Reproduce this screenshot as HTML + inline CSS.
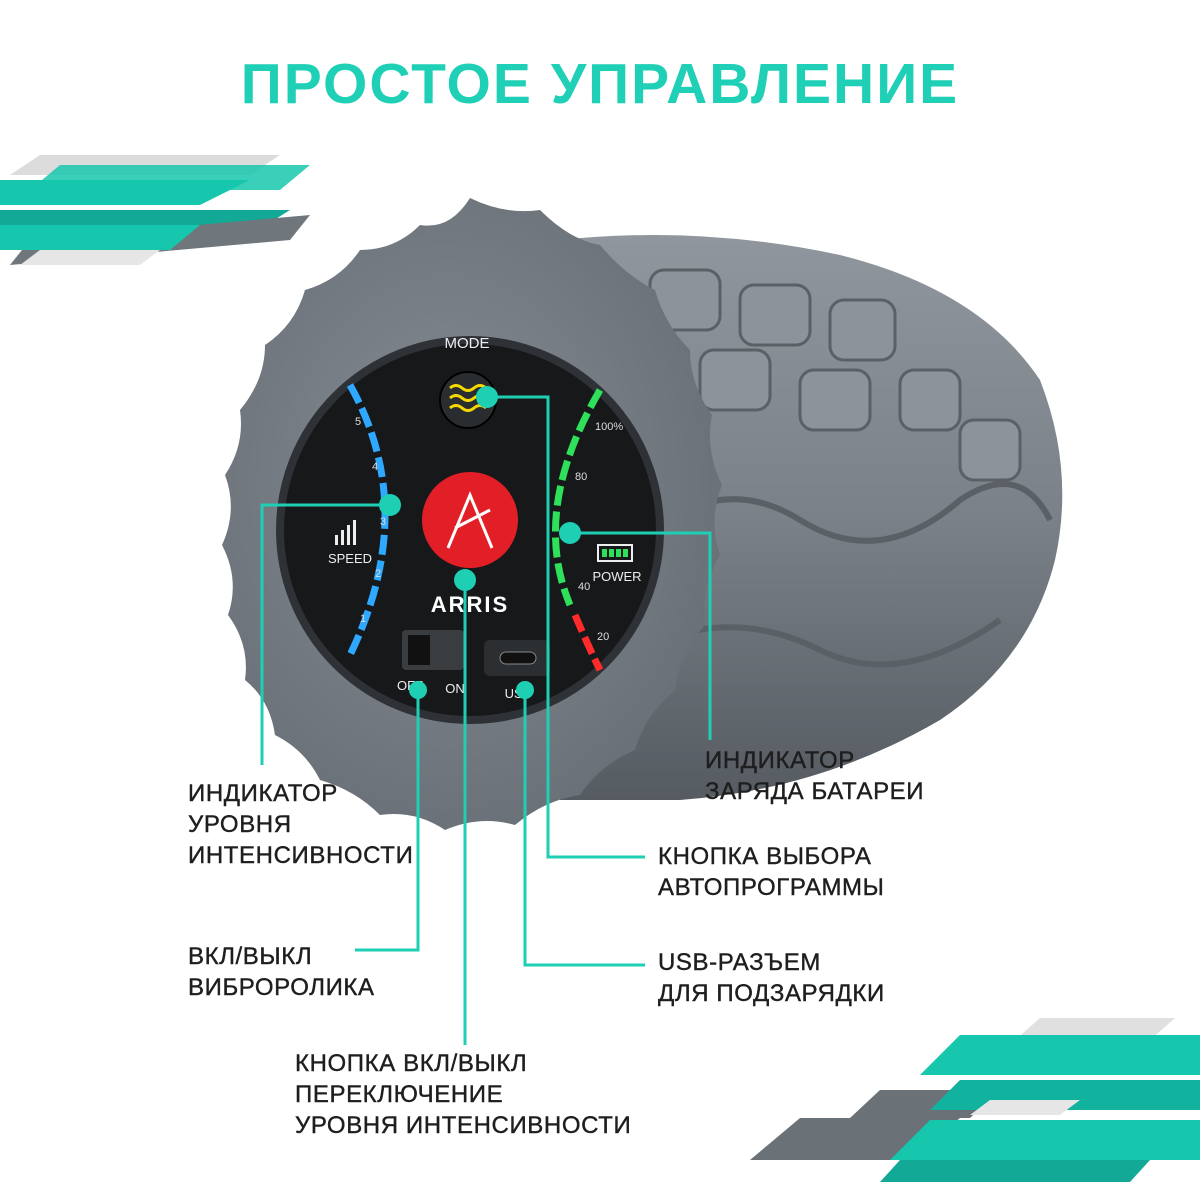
<!DOCTYPE html>
<html><head><meta charset="utf-8"><style>
html,body{margin:0;padding:0;background:#fff;width:1200px;height:1200px;overflow:hidden}
svg{display:block}
</style></head><body>
<svg width="1200" height="1200" viewBox="0 0 1200 1200" xmlns="http://www.w3.org/2000/svg" font-family="Liberation Sans, sans-serif">
<defs>
<radialGradient id="cap" cx="45%" cy="45%" r="60%"><stop offset="0" stop-color="#858b92"/><stop offset="1" stop-color="#686f76"/></radialGradient>
<linearGradient id="body" x1="0" y1="0" x2="0" y2="1"><stop offset="0" stop-color="#90969d"/><stop offset="0.5" stop-color="#7a8188"/><stop offset="1" stop-color="#555b61"/></linearGradient>
</defs>
<text x="600" y="103" text-anchor="middle" font-size="57" font-weight="bold" fill="#1fd0b7" letter-spacing="2">ПРОСТОЕ УПРАВЛЕНИЕ</text>

<g>
<polygon points="40,155 280,155 250,175 10,175" fill="#dcdcdc"/>
<polygon points="0,180 250,180 200,205 0,205" fill="#17c7ad"/>
<polygon points="60,165 310,165 280,190 30,190" fill="#17c7ad" opacity="0.85"/>
<polygon points="0,210 290,210 250,235 0,235" fill="#12a996"/>
<polygon points="30,240 310,215 290,240 10,265" fill="#6f767c"/>
<polygon points="0,225 200,225 170,250 0,250" fill="#17c7ad"/>
<polygon points="40,250 160,250 140,265 20,265" fill="#e6e6e6"/>
</g>
<g>
<polygon points="1040,1018 1175,1018 1150,1040 1015,1040" fill="#e0e0e0"/>
<polygon points="960,1035 1200,1035 1200,1075 920,1075" fill="#17c7ad"/>
<polygon points="880,1090 1000,1090 970,1118 850,1118" fill="#6a7177"/>
<polygon points="960,1080 1200,1080 1200,1110 930,1110" fill="#12b39e"/>
<polygon points="990,1100 1080,1100 1060,1115 970,1115" fill="#e6e6e6"/>
<polygon points="800,1118 960,1118 910,1160 750,1160" fill="#6a7177"/>
<polygon points="930,1120 1200,1120 1200,1160 890,1160" fill="#17c7ad"/>
<polygon points="900,1160 1150,1160 1130,1182 880,1182" fill="#12a996"/>
</g>

<path d="M560,240 Q700,225 840,255 Q980,290 1040,380 Q1075,470 1055,560 Q1030,660 940,720 Q820,790 680,800 L560,800 Z" fill="url(#body)"/>
<g fill="#8d939a" stroke="#5a6066" stroke-width="3">
<rect x="650" y="270" width="70" height="60" rx="14"/>
<rect x="740" y="285" width="70" height="60" rx="14"/>
<rect x="830" y="300" width="65" height="60" rx="14"/>
<rect x="700" y="350" width="70" height="60" rx="14"/>
<rect x="800" y="370" width="70" height="60" rx="14"/>
<rect x="900" y="370" width="60" height="60" rx="14"/>
<rect x="960" y="420" width="60" height="60" rx="14"/>
</g>
<path d="M640,540 Q720,470 800,520 Q880,570 960,500 Q1020,460 1050,520" stroke="#5a6066" stroke-width="6" fill="none"/>
<path d="M620,660 Q720,600 820,650 Q900,690 1000,620" stroke="#5a6066" stroke-width="6" fill="none"/>

<path fill="url(#cap)" d="
M470,198 Q505,215 540,210 Q570,240 600,245 Q625,275 655,290 Q665,325 690,350 Q690,385 712,415 Q705,450 722,485 Q708,520 720,555 Q700,590 705,625 Q680,655 675,690 Q645,715 635,750 Q600,765 580,795 Q545,800 515,825 Q480,815 445,830 Q415,810 380,815 Q355,790 320,780 Q305,750 275,735 Q270,700 245,680 Q250,645 228,615 Q240,580 222,545 Q238,510 225,475 Q245,445 240,410 Q265,380 265,345 Q295,325 305,290 Q340,280 360,250 Q395,250 420,225 Q450,230 470,198 Z"/>

<circle cx="470" cy="530" r="190" fill="#16181a" stroke="#2e3236" stroke-width="8"/>
<path d="M350,385 Q420,510 350,655" stroke="#2fa8ff" stroke-width="7" fill="none" stroke-dasharray="20,6"/>
<path d="M600,390 Q530,510 570,605" stroke="#2ee05a" stroke-width="7" fill="none" stroke-dasharray="20,6"/>
<path d="M575,615 Q590,650 600,670" stroke="#ff2b2b" stroke-width="7" fill="none" stroke-dasharray="18,6"/>
<g fill="#ddd" font-size="11">
<text x="355" y="425">5</text><text x="372" y="470">4</text><text x="380" y="525">3</text><text x="375" y="577">2</text><text x="360" y="622">1</text>
<text x="595" y="430">100%</text><text x="575" y="480">80</text><text x="578" y="590">40</text><text x="597" y="640">20</text>
</g>
<text x="467" y="348" fill="#eee" font-size="15" text-anchor="middle">MODE</text>
<circle cx="468" cy="400" r="28" fill="#2a2d30" stroke="#000" stroke-width="2"/>
<path d="M450,388 q6,-5 12,0 t12,0 t12,0 M450,398 q6,-5 12,0 t12,0 t12,0 M450,408 q6,-5 12,0 t12,0 t12,0" stroke="#f5d800" stroke-width="3" fill="none"/>
<circle cx="470" cy="520" r="48" fill="#e21f26"/>
<path d="M448,548 L470,495 L492,548 M455,528 L490,510" stroke="#fff" stroke-width="3" fill="none"/>
<text x="470" y="612" fill="#fff" font-size="22" font-weight="bold" text-anchor="middle" letter-spacing="2">ARRIS</text>
<g fill="#eee"><rect x="335" y="535" width="3" height="10"/><rect x="341" y="530" width="3" height="15"/><rect x="347" y="525" width="3" height="20"/><rect x="353" y="520" width="3" height="25"/></g>
<text x="350" y="563" fill="#eee" font-size="13" text-anchor="middle">SPEED</text>
<rect x="598" y="545" width="34" height="16" fill="none" stroke="#eee" stroke-width="2"/>
<g fill="#2ee05a"><rect x="602" y="549" width="5" height="8"/><rect x="609" y="549" width="5" height="8"/><rect x="616" y="549" width="5" height="8"/><rect x="623" y="549" width="5" height="8"/></g>
<text x="617" y="581" fill="#eee" font-size="13" text-anchor="middle">POWER</text>
<rect x="402" y="630" width="62" height="40" rx="4" fill="#3a3d40"/>
<rect x="408" y="635" width="22" height="30" fill="#111"/>
<rect x="484" y="640" width="66" height="36" rx="6" fill="#2c2f32"/>
<rect x="500" y="652" width="36" height="12" rx="6" fill="#111" stroke="#888"/>
<text x="410" y="690" fill="#eee" font-size="13" text-anchor="middle">OFF</text>
<text x="455" y="693" fill="#eee" font-size="13" text-anchor="middle">ON</text>
<text x="518" y="698" fill="#eee" font-size="13" text-anchor="middle">USB</text>

<g stroke="#1fcfb4" stroke-width="3" fill="none">
<polyline points="390,505 262,505 262,765"/>
<polyline points="570,533 710,533 710,740"/>
<polyline points="487,397 548,397 548,857 645,857"/>
<polyline points="465,580 465,1045"/>
<polyline points="418,690 418,950 355,950"/>
<polyline points="525,690 525,965 645,965"/>
</g>
<g fill="#1fcfb4">
<circle cx="390" cy="505" r="11"/><circle cx="570" cy="533" r="11"/><circle cx="487" cy="397" r="11"/>
<circle cx="465" cy="580" r="11"/><circle cx="418" cy="690" r="9"/><circle cx="525" cy="690" r="9"/>
</g>

<g fill="#1e1e1e" font-size="24" letter-spacing="0.6" stroke="#1e1e1e" stroke-width="0.4">
<text x="188" y="801">ИНДИКАТОР</text><text x="188" y="832">УРОВНЯ</text><text x="188" y="863">ИНТЕНСИВНОСТИ</text>
<text x="705" y="768">ИНДИКАТОР</text><text x="705" y="799">ЗАРЯДА БАТАРЕИ</text>
<text x="658" y="864">КНОПКА ВЫБОРА</text><text x="658" y="895">АВТОПРОГРАММЫ</text>
<text x="188" y="964">ВКЛ/ВЫКЛ</text><text x="188" y="995">ВИБРОРОЛИКА</text>
<text x="658" y="970">USB-РАЗЪЕМ</text><text x="658" y="1001">ДЛЯ ПОДЗАРЯДКИ</text>
<text x="295" y="1071">КНОПКА ВКЛ/ВЫКЛ</text><text x="295" y="1102">ПЕРЕКЛЮЧЕНИЕ</text><text x="295" y="1133">УРОВНЯ ИНТЕНСИВНОСТИ</text>
</g>
</svg>
</body></html>
